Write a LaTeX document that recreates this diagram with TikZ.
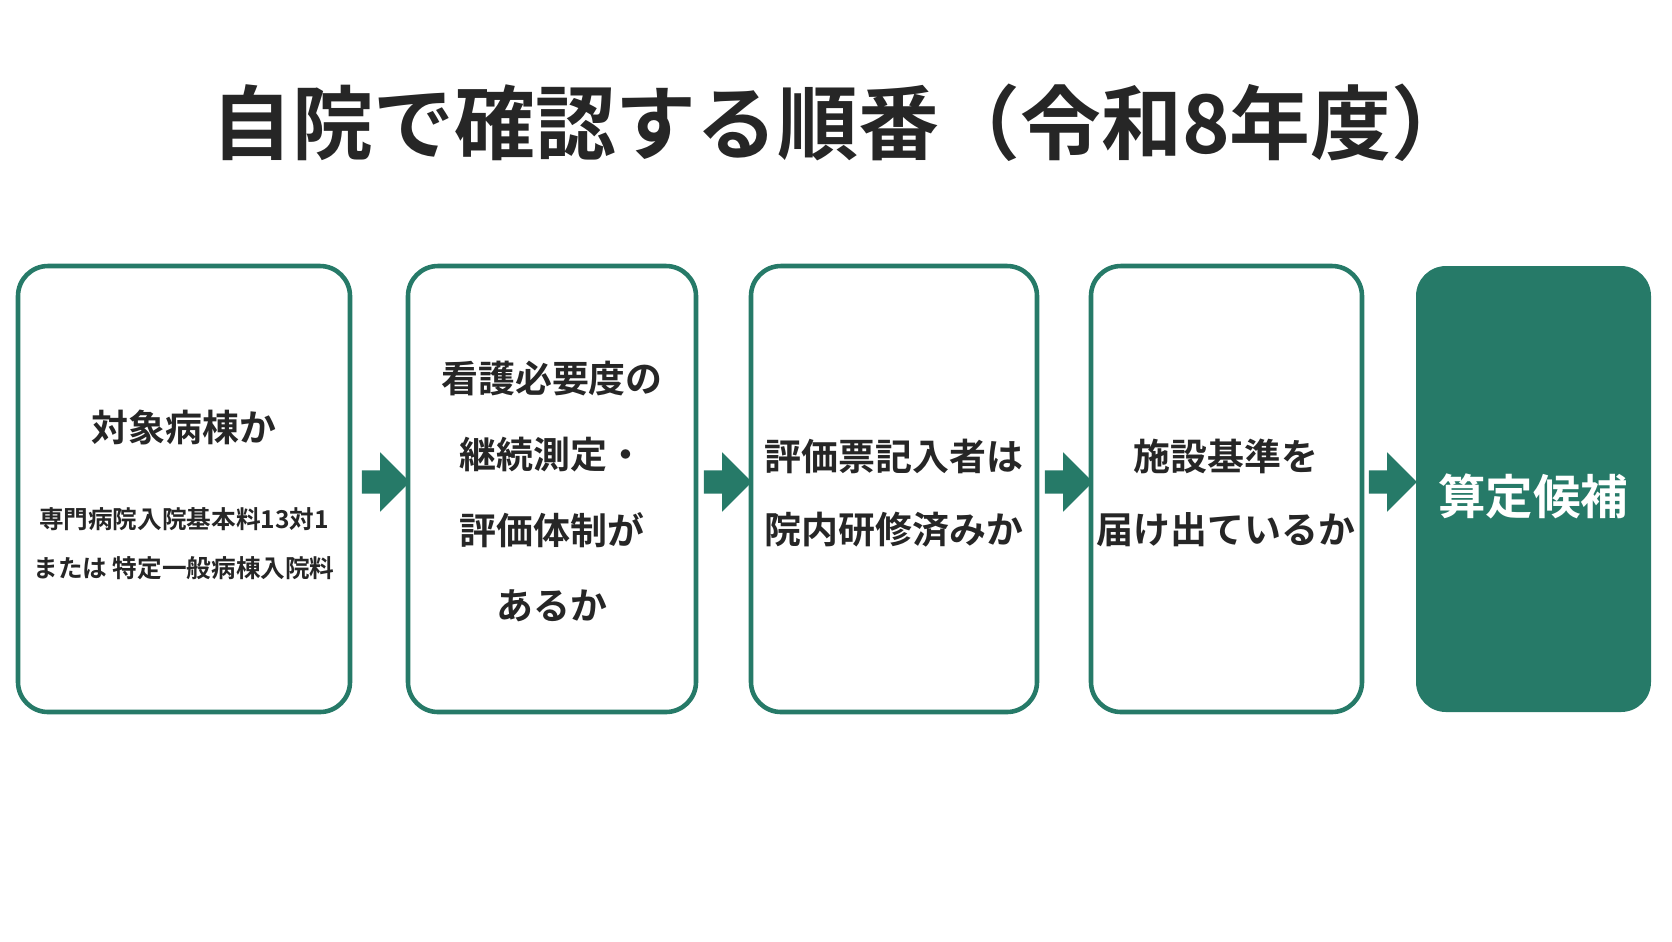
\documentclass[tikz,border=0pt]{standalone}
\usepackage{fontspec}
\setmainfont{Noto Sans CJK JP}[BoldFont={* Bold}]
\usetikzlibrary{shapes.arrows}
\definecolor{step_green}{RGB}{38,122,104}

\begin{document}
\begin{tikzpicture}[x=0.01cm,y=-0.01cm,font=\bfseries]
    \tikzstyle{stepbox}=[draw=step_green, line width=1.3pt, rounded corners=0.3cm, fill=white]
    \tikzstyle{goal}=[fill=step_green, rounded corners=0.3cm]
    \tikzstyle{txt}=[text=black!85, align=center, font=\fontsize{10.5}{13}\selectfont\bfseries]
    \tikzstyle{small}=[text=black!85, font=\fontsize{7}{9}\selectfont\bfseries]
    \tikzstyle{go}=[single arrow, fill=step_green, minimum height=0.48cm, inner sep=0.11cm,
                    single arrow head extend=0.18cm]

    \useasboundingbox (0,0) rectangle (1672,941);
    \node[text=black!85, font=\fontsize{23}{27}\selectfont\bfseries] (title) at (842,123) {自院で確認する順番（令和8年度）};

    \draw[stepbox] (18,266) rectangle (350,712);
    \draw[stepbox] (408,266) rectangle (696,712);
    \draw[stepbox] (751,266) rectangle (1037,712);
    \draw[stepbox] (1091,266) rectangle (1362,712);
    \fill[goal] (1416,266) rectangle (1651,712);

    \node[txt] (s1) at (184,427) {対象病棟か};
    \node[small] (s1a) at (184,519) {専門病院入院基本料13対1};
    \node[small] (s1b) at (184,568) {または 特定一般病棟入院料};
    \node[txt] (s2a) at (552,379) {看護必要度の};
    \node[txt] (s2b) at (552,455) {継続測定・};
    \node[txt] (s2c) at (552,530) {評価体制が};
    \node[txt] (s2d) at (552,606) {あるか};
    \node[txt] (s3a) at (894,456) {評価票記入者は};
    \node[txt] (s3b) at (894,530) {院内研修済みか};
    \node[txt] (s4a) at (1226,456) {施設基準を};
    \node[txt] (s4b) at (1226,530) {届け出ているか};
    \node[txt, text=white, font=\fontsize{13.5}{16}\selectfont\bfseries] (s5) at (1533,496) {算定候補};

    \node[go] (a1) at (380,482) {};
    \node[go] (a2) at (722,482) {};
    \node[go] (a3) at (1063,482) {};
    \node[go] (a4) at (1387,482) {};
\end{tikzpicture}
\end{document}
